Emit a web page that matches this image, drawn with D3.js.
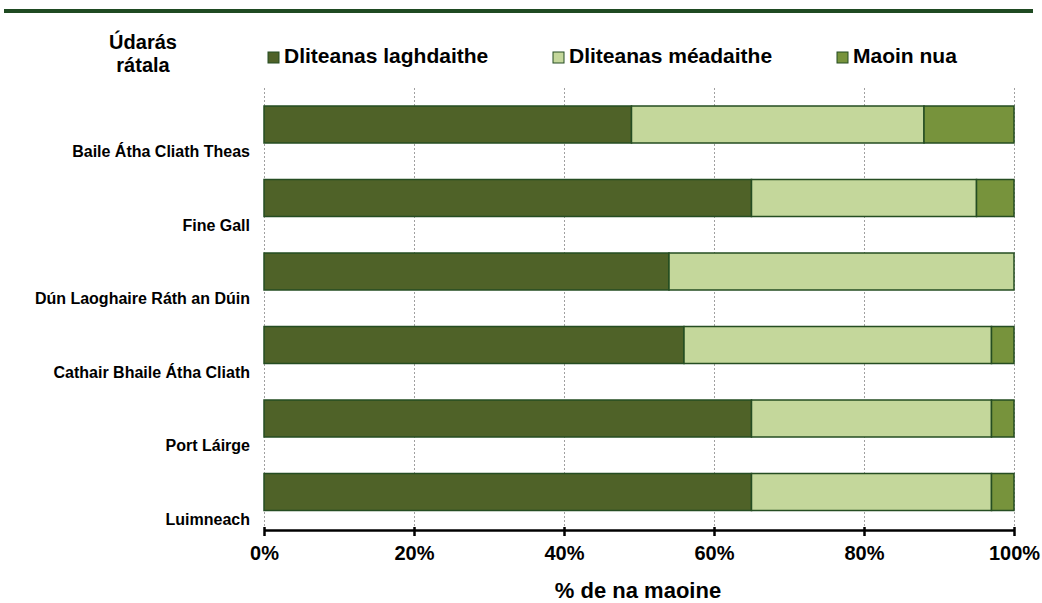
<!DOCTYPE html>
<html>
<head>
<meta charset="utf-8">
<script src="https://cdn.jsdelivr.net/npm/d3@7"></script>
<style>
  body { margin: 0; background: #fff; }
  text { font-family: 'Liberation Sans', Arial, sans-serif; font-weight: bold; fill: #000; }
</style>
</head>
<body>
<div id="vis"></div>
<script>
const categories = ['Baile Átha Cliath Theas', 'Fine Gall', 'Dún Laoghaire Ráth an Dúin',
  'Cathair Bhaile Átha Cliath', 'Port Láirge', 'Luimneach']
const seriesNames = ['Dliteanas laghdaithe', 'Dliteanas méadaithe', 'Maoin nua']
const laghdaithe = [49, 65, 54, 56, 65, 65]
const meadaithe = [39, 30, 46, 41, 32, 32]
const maoinNua = [12, 5, 0, 3, 3, 3]
const ticks = [0, 20, 40, 60, 80, 100]
const colors = ['#4f6228', '#c4d79b', '#77933c']

const width = 1042
const height = 603
const margin = { top: 88, right: 28, bottom: 74, left: 264 }
const chartWidth = width - margin.left - margin.right
const chartHeight = height - margin.top - margin.bottom

const svg = d3.select('#vis').append('svg')
  .attr('width', width).attr('height', height)
  .attr('viewBox', [0, 0, width, height])

// top rule
svg.append('rect')
  .attr('x', 4).attr('y', 9).attr('width', 1029).attr('height', 4)
  .attr('fill', '#1f4a22')

const x = d3.scaleLinear().domain([0, 100]).range([0, chartWidth])
const y = d3.scaleBand().domain(categories).range([0, chartHeight]).paddingInner(0).paddingOuter(0)

const g = svg.append('g').attr('transform', `translate(${margin.left},${margin.top})`)

// gridlines
g.selectAll('.grid').data(ticks).enter().append('line')
  .attr('x1', (d) => x(d) + 0.5).attr('x2', (d) => x(d) + 0.5)
  .attr('y1', 0).attr('y2', chartHeight)
  .attr('stroke', '#a0a0a0').attr('stroke-width', 1)
  .attr('stroke-dasharray', '2,2')

const rows = categories.map((c, i) => {
  const vals = [laghdaithe[i], meadaithe[i], maoinNua[i]]
  let acc = 0
  return vals.map((v, k) => {
    const seg = { cat: c, k, x0: acc, x1: acc + v }
    acc += v
    return seg
  })
}).flat().filter((d) => d.x1 > d.x0)

const barOffset = 18
const barHeight = 37

g.selectAll('.bar').data(rows).enter().append('rect')
  .attr('x', (d) => x(d.x0))
  .attr('y', (d) => y(d.cat) + barOffset)
  .attr('width', (d) => x(d.x1) - x(d.x0))
  .attr('height', barHeight)
  .attr('fill', (d) => colors[d.k])
  .attr('stroke', '#254d22').attr('stroke-width', 1.5)

// category labels
g.selectAll('.cat').data(categories).enter().append('text')
  .attr('x', -14)
  .attr('y', (d) => y(d) + 69)
  .attr('text-anchor', 'end')
  .attr('font-size', 16)
  .text((d) => d)

// x axis
const xAxis = d3.axisBottom(x)
  .tickValues(ticks)
  .tickSizeInner(6)
  .tickSizeOuter(0)
  .tickPadding(10)
  .tickFormat((d) => d + '%')

const ax = g.append('g')
  .attr('transform', `translate(0,${chartHeight + 1})`)
  .call(xAxis)
ax.select('.domain').attr('stroke', '#000').attr('stroke-width', 2.5)
ax.selectAll('.tick line').attr('stroke', '#000').attr('stroke-width', 2.5).attr('y1', -3)
ax.selectAll('.tick text')
  .attr('font-size', 20)
  .attr('font-family', "'Liberation Sans', Arial, sans-serif")
  .attr('font-weight', 'bold')
  .attr('fill', '#000')

svg.append('text')
  .attr('x', margin.left + chartWidth / 2 - 1)
  .attr('y', 598)
  .attr('text-anchor', 'middle')
  .attr('font-size', 22)
  .text('% de na maoine')

// header
const header = svg.append('text')
  .attr('text-anchor', 'middle')
  .attr('font-size', 20)
header.append('tspan').attr('x', 143).attr('y', 49).text('Údarás')
header.append('tspan').attr('x', 143).attr('y', 72).text('rátala')

// legend
const legendX = [268, 553, 837]
const legend = svg.selectAll('.legend').data(seriesNames).enter().append('g')
  .attr('transform', (d, i) => `translate(${legendX[i]},52)`)
legend.append('rect')
  .attr('width', 11).attr('height', 11)
  .attr('fill', (d, i) => colors[i])
  .attr('stroke', '#254d22').attr('stroke-width', 1)
legend.append('text')
  .attr('x', 16).attr('y', 11)
  .attr('font-size', 21)
  .text((d) => d)
</script>
</body>
</html>
